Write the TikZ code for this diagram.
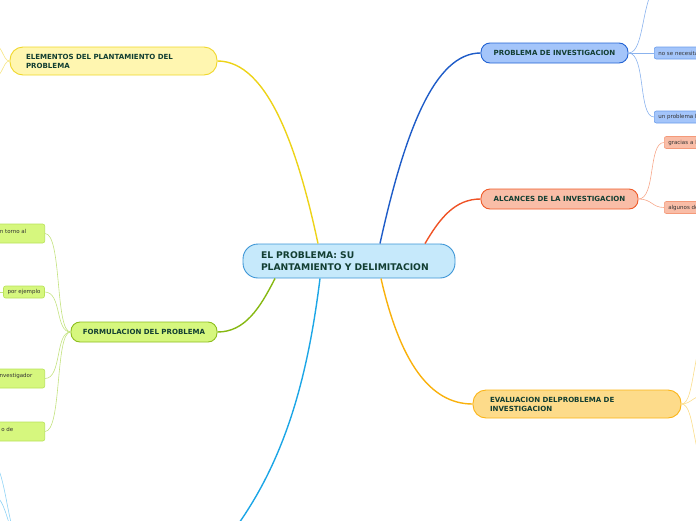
\documentclass[tikz,border=0pt]{standalone}
\usepackage{fontspec}
\setmainfont{DejaVu Sans}
\definecolor{txt}{HTML}{123E32}
\definecolor{subtxt}{HTML}{333333}
\definecolor{cfill}{HTML}{C6E9FB}
\definecolor{cborder}{HTML}{3C95D6}
\definecolor{pfill}{HTML}{A4C5FA}
\definecolor{pborder}{HTML}{2263D3}
\definecolor{afill}{HTML}{F9BDA7}
\definecolor{aborder}{HTML}{EF5A28}
\definecolor{efill}{HTML}{FDDB8A}
\definecolor{eborder}{HTML}{FBB415}
\definecolor{yfill}{HTML}{FFF6B0}
\definecolor{yborder}{HTML}{F0D72A}
\definecolor{gfill}{HTML}{D6F77E}
\definecolor{gborder}{HTML}{8DBE1E}
\definecolor{lyellow}{HTML}{EDD318}
\definecolor{lblue}{HTML}{1E5CC8}
\definecolor{lorange}{HTML}{EF5326}
\definecolor{lgreen}{HTML}{86B812}
\definecolor{lamber}{HTML}{F9B10C}
\definecolor{lsky}{HTML}{1CA6E6}
\definecolor{sblue}{HTML}{8BB3EE}
\definecolor{sorange}{HTML}{F7A88B}
\definecolor{sgreen}{HTML}{C3E27F}
\definecolor{samber}{HTML}{FBDD8A}
\definecolor{syellow}{HTML}{F6E585}
\definecolor{ssky}{HTML}{8FD3F5}
\definecolor{sbborder}{HTML}{6B9DEB}
\definecolor{saborder}{HTML}{F49A7A}
\definecolor{sgborder}{HTML}{B9E35A}
\begin{document}
\begin{tikzpicture}[x=1pt,y=-1pt,
  mainbox/.style={draw, line width=0.9pt, rounded corners=9pt, text=txt,
    font=\bfseries\fontsize{7.05}{9}\selectfont, minimum height=20pt, inner ysep=0pt},
  subbox/.style={draw, line width=0.6pt, rounded corners=2pt, text=subtxt,
    font=\fontsize{5.5}{6.5}\selectfont, minimum height=12pt, inner xsep=4pt, inner ysep=0pt},
  subtext/.style={text=subtxt, font=\fontsize{5.5}{6.5}\selectfont, inner sep=0pt},
  conn/.style={line width=1.4pt},
  sconn/.style={line width=0.6pt}]
\useasboundingbox (0,0) rectangle (696,520);
\clip (0,0) rectangle (696,520);

% main nodes
\node[mainbox, fill=cfill, draw=cborder, rounded corners=15pt, minimum width=212pt,
  minimum height=34pt, text width=176pt, inner xsep=18pt, align=left,
  font=\bfseries\fontsize{9.2}{11.5}\selectfont] (c) at (349,261)
  {EL PROBLEMA: SU\\PLANTAMIENTO Y DELIMITACION};
\node[mainbox, fill=pfill, draw=pborder, minimum width=147pt] (pi) at (554.5,53) {PROBLEMA DE INVESTIGACION};
\node[mainbox, fill=afill, draw=aborder, minimum width=157pt] (al) at (559.5,199) {ALCANCES DE LA INVESTIGACION};
\node[mainbox, fill=efill, draw=eborder, rounded corners=13pt, minimum width=208pt, minimum height=28pt,
  text width=174pt, inner xsep=17pt, align=left] (ev) at (577,404)
  {EVALUACION DELPROBLEMA DE\\INVESTIGACION};
\node[mainbox, fill=yfill, draw=yborder, rounded corners=13pt, minimum width=207pt, minimum height=28pt,
  text width=175pt, inner xsep=16pt, align=left] (el) at (113.5,61)
  {ELEMENTOS DEL PLANTAMIENTO DEL\\PROBLEMA};
\node[mainbox, fill=gfill, draw=gborder, minimum width=146pt] (fo) at (144,332) {FORMULACION DEL PROBLEMA};

% sub nodes (right)
\node[subbox, fill=pfill, draw=sbborder, anchor=west, minimum width=70pt, align=left, text width=62pt] (p1) at (654,53) {no se necesita};
\node[subbox, fill=pfill, draw=sbborder, anchor=west, minimum width=70pt, align=left, text width=62pt] (p2) at (654,117) {un problema b};
\node[subbox, fill=afill, draw=saborder, anchor=west, minimum width=60pt, align=left, text width=52pt] (a1) at (664,142.5) {gracias a l};
\node[subbox, fill=afill, draw=saborder, anchor=west, minimum width=60pt, align=left, text width=52pt] (a2) at (664,207.5) {algunos de};

% sub nodes (left, green)
\node[subbox, fill=gfill, draw=sgborder, anchor=east, minimum width=140pt, minimum height=19pt] (g1) at (45,233.5) {};
\node[subtext, anchor=east] (g1t) at (26.5,231) {n torno al};
\node[subbox, fill=gfill, draw=sgborder] (g2) at (24,292) {por ejemplo};
\node[subbox, fill=gfill, draw=sgborder, anchor=east, minimum width=140pt, minimum height=19pt] (g3) at (45,378.5) {};
\node[subtext, anchor=east] (g3t) at (32.5,376) {nvestigador};
\node[subbox, fill=gfill, draw=sgborder, anchor=east, minimum width=140pt, minimum height=19pt] (g4) at (45,431.5) {};
\node[subtext, anchor=east] (g4t) at (13.5,429) {o de};

% free ends off the canvas
\coordinate (pt) at (662,-22);
\coordinate (bt) at (205,565);
\coordinate (e1) at (722,298);
\coordinate (e2) at (712,393);
\coordinate (e3) at (722,505);
\coordinate (y1) at (-15,38);
\coordinate (y2) at (-15,84);
\coordinate (gx) at (-8,292);
\coordinate (bp) at (20,540);
\coordinate (b1) at (-8,461);
\coordinate (b2) at (-8,494);

% main connectors
\draw[conn, draw=lyellow] ([xshift=-31pt]c.north) .. controls (298,150) and (268,61) .. (el.east);
\draw[conn, draw=lblue] ([xshift=31pt]c.north) .. controls (405,130) and (435,53) .. (pi.west);
\draw[conn, draw=lorange] ([xshift=76pt]c.north) .. controls (440,218) and (455,199) .. (al.west);
\draw[conn, draw=lgreen] ([xshift=-74pt]c.south) .. controls (260,308) and (245,332) .. (fo.east);
\draw[conn, draw=lamber] ([xshift=32pt]c.south) .. controls (400,362) and (430,404) .. (ev.west);
\draw[conn, draw=lsky] ([xshift=-29pt]c.south) .. controls (305,400) and (275,490) .. (bt);

% sub connectors
\draw[sconn, draw=sblue] (pi.east) .. controls (646,53) and (640,-8) .. (pt);
\draw[sconn, draw=sblue] (pi.east) -- (p1.west);
\draw[sconn, draw=sblue] (pi.east) .. controls (646,53) and (638,117) .. (p2.west);
\draw[sconn, draw=sorange] (al.east) .. controls (656,199) and (648,142.5) .. (a1.west);
\draw[sconn, draw=sorange] (al.east) .. controls (652,199) and (652,207.5) .. (a2.west);
\draw[sconn, draw=samber] (ev.east) .. controls (697,404) and (690,330) .. (e1);
\draw[sconn, draw=samber] (ev.east) .. controls (692,404) and (692,395) .. (e2);
\draw[sconn, draw=samber] (ev.east) .. controls (697,404) and (690,470) .. (e3);
\draw[sconn, draw=syellow] (el.west) .. controls (2,61) and (4,42) .. (y1);
\draw[sconn, draw=syellow] (el.west) .. controls (2,61) and (4,80) .. (y2);
\draw[sconn, draw=sgreen] (fo.west) .. controls (55,332) and (62,233.5) .. (g1.east);
\draw[sconn, draw=sgreen] (fo.west) .. controls (55,332) and (62,292) .. (g2.east);
\draw[sconn, draw=sgreen] (fo.west) .. controls (55,332) and (62,378.5) .. (g3.east);
\draw[sconn, draw=sgreen] (fo.west) .. controls (55,332) and (62,431.5) .. (g4.east);
\draw[sconn, draw=sgreen] (g2.west) -- (gx);
\draw[sconn, draw=ssky] (bp) .. controls (8,540) and (6,465) .. (b1);
\draw[sconn, draw=ssky] (bp) .. controls (8,540) and (8,497) .. (b2);
\end{tikzpicture}
\end{document}
